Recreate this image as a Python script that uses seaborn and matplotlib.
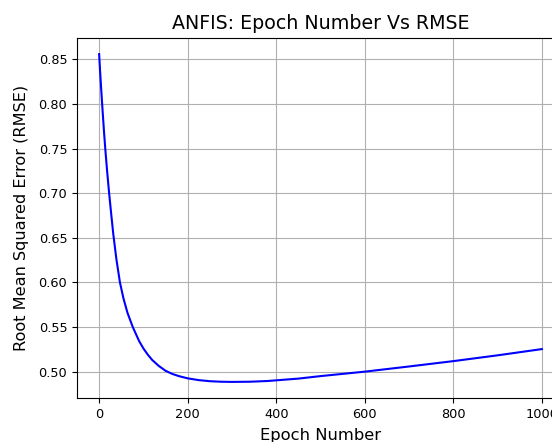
import matplotlib
matplotlib.use("Agg")
import matplotlib.pyplot as plt
import seaborn as sns
import pandas as pd

# RMSE per epoch
epochs = [0, 2, 5, 8, 11, 14, 18, 22, 27, 32, 39, 47, 55, 64, 76, 90, 100,
          110, 120, 135, 150, 165, 180, 200, 225, 250, 275, 300, 340, 380,
          450, 500, 600, 700, 800, 900, 1000]
rmse = [0.856, 0.838, 0.814, 0.791, 0.769, 0.749, 0.725, 0.703, 0.678, 0.654,
        0.626, 0.600, 0.582, 0.566, 0.550, 0.5346, 0.526, 0.519, 0.513, 0.5063,
        0.501, 0.4975, 0.495, 0.4925, 0.4905, 0.4893, 0.4887, 0.4885, 0.4887,
        0.4895, 0.4922, 0.4950, 0.5000, 0.5058, 0.5118, 0.5183, 0.5253]

data = pd.DataFrame({"epoch": epochs, "rmse": rmse})

fig = plt.figure(figsize=(5.52, 4.42), dpi=100)
# axes runs past the right edge, like the cropped original
ax = fig.add_axes([77 / 552, (442 - 398.3) / 442, 487 / 552, 360.6 / 442])

sns.lineplot(data=data, x="epoch", y="rmse", color="blue", linewidth=1.5, ax=ax)
ax.grid(True)
ax.set_yticks([0.50, 0.55, 0.60, 0.65, 0.70, 0.75, 0.80, 0.85])
ax.set_xticks([0, 200, 400, 600, 800, 1000])
ax.tick_params(labelsize=9.3)
ax.set_title("ANFIS: Epoch Number Vs RMSE", fontsize=13.7)
ax.set_xlabel("Epoch Number", fontsize=11.8, labelpad=5)
ax.set_ylabel("Root Mean Squared Error (RMSE)", fontsize=11.6, labelpad=6.5)

fig.savefig("out.png", dpi=100)
